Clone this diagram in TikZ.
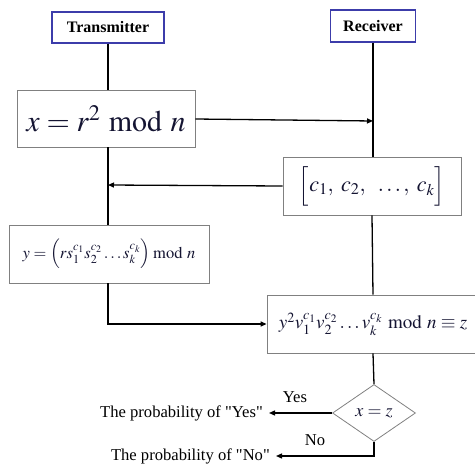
\documentclass[tikz,border=0pt]{standalone}
\usepackage{mathptmx}
\usepackage{fontspec}
\setmainfont{Liberation Serif}
\usetikzlibrary{shapes.geometric,arrows.meta}
\definecolor{boxgray}{RGB}{128,128,128}
\definecolor{boxblue}{RGB}{60,60,170}
\definecolor{txtnavy}{RGB}{20,20,50}
\begin{document}
\begin{tikzpicture}[x=1pt,y=-1pt,
  headbox/.style={draw=boxblue,line width=1.4pt,fill=white,inner sep=0pt,font=\fontsize{16}{18}\selectfont\bfseries},
  mbox/.style={draw=boxgray,line width=0.8pt,fill=white,inner sep=0pt,text=txtnavy},
  link/.style={line width=1.3pt,black},
  arr/.style={link,-{Triangle[length=6pt,width=5pt]}},
  lab/.style={font=\fontsize{16.6}{18}\selectfont,inner sep=0pt}]
\useasboundingbox (0,0) rectangle (475,466);
\node[headbox,minimum width=112pt,minimum height=31pt] (tx) at (108,27.5) {Transmitter};
\node[headbox,minimum width=85pt,minimum height=32pt] (rx) at (373,26) {Receiver};
\node[mbox,minimum width=178pt,minimum height=57pt,font=\fontsize{30}{32}\selectfont] (xb) at (106,118.5) {$x=r^{2}\bmod n$};
\node[mbox,minimum width=178pt,minimum height=58pt,font=\fontsize{22}{24}\selectfont] (cb) at (372,186) {$\Bigl[c_{1},\;c_{2},\;\;\ldots,\;c_{k}\Bigr]$};
\node[mbox,minimum width=200pt,minimum height=58pt,font=\fontsize{16.5}{18}\selectfont] (yb) at (109,254) {$y=\Bigl(rs_{1}^{c_1}s_{2}^{c_2}\ldots s_{k}^{c_k}\Bigr)\!\bmod n$};
\node[mbox,minimum width=212pt,minimum height=58pt,font=\fontsize{19}{21}\selectfont] (vb) at (373,324) {$y^{2}v_{1}^{c_1}v_{2}^{c_2}\ldots v_{k}^{c_k}\bmod n\equiv z$};
\node[mbox,diamond,aspect=1.45,minimum width=83pt,minimum height=57pt,inner sep=0pt,font=\fontsize{18}{20}\selectfont] (dz) at (374,413) {$x=z$};
\node[lab,anchor=east] (py) at (263,413) {The probability of \textquotedbl Yes\textquotedbl};
\node[lab,anchor=east] (pn) at (270,456) {The probability of \textquotedbl No\textquotedbl};
\node[lab] (ly) at (295,397) {Yes};
\node[lab] (ln) at (315,440) {No};
\coordinate (r1) at (373,121);
\coordinate (t1) at (108,185);
\draw[link] (tx.south) -- (xb.north -| tx.south);
\draw[link] (rx.south) -- (cb.north -| rx.south);
\draw[arr] (xb.east |- 0,119) -- (r1);
\draw[arr] (cb.west) -- (t1);
\draw[link] (xb.south -| tx.south) -- (yb.north -| tx.south);
\draw[arr] (yb.south -| tx.south) |- (vb.west);
\draw[link] (cb.south) -- (vb.north);
\draw[link] (vb.south) -- (dz.north);
\draw[arr] (dz.west) -- ([xshift=6pt]py.east);
\draw[arr] (dz.south) |- ([xshift=6pt]pn.east);
\end{tikzpicture}
\end{document}
